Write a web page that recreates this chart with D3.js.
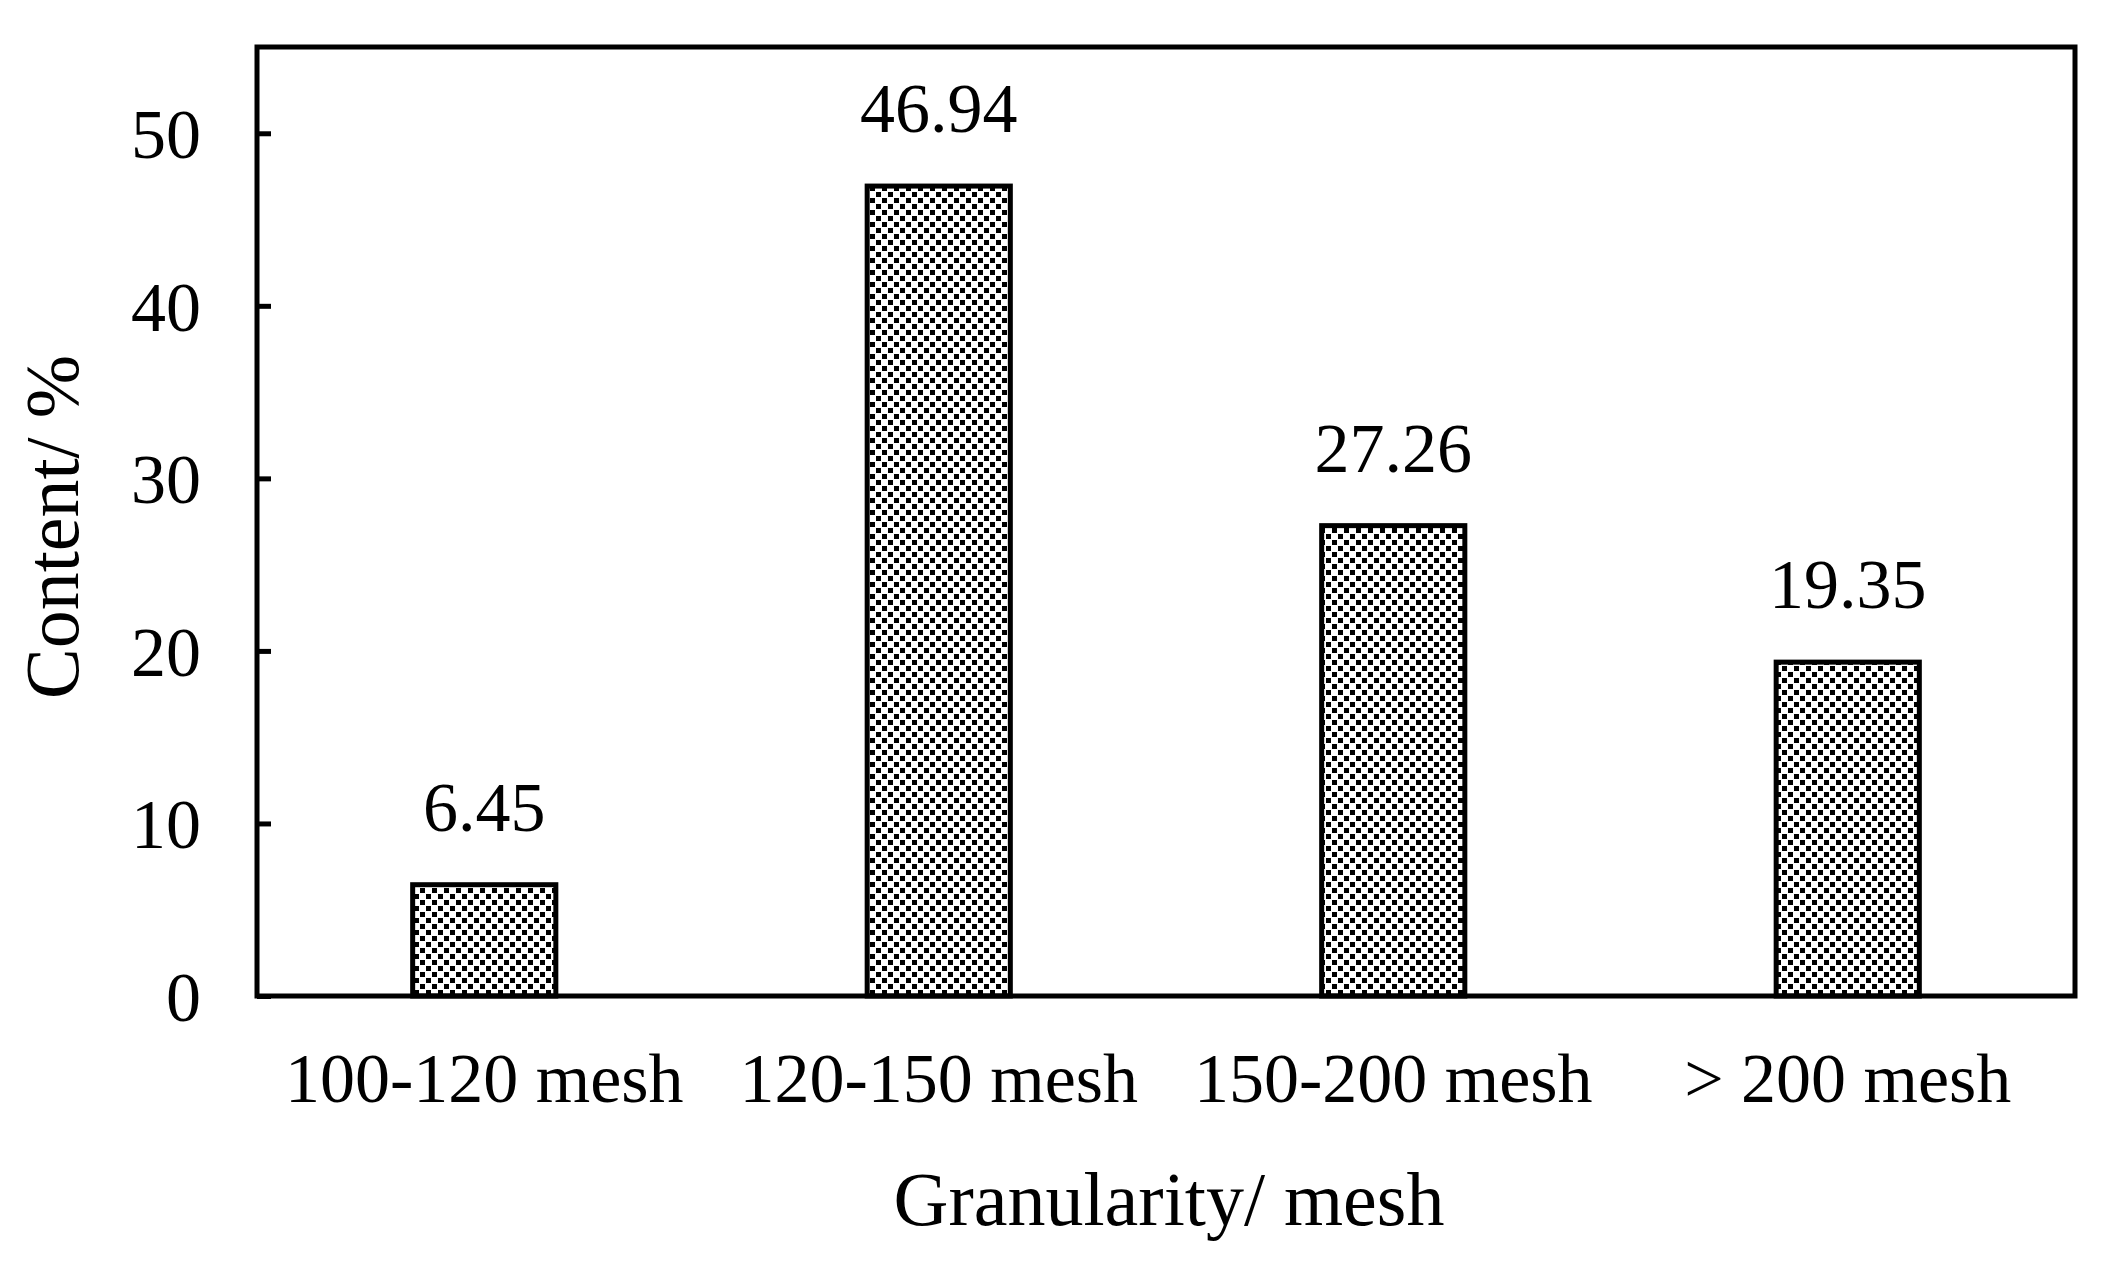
<!DOCTYPE html>
<html><head><meta charset="utf-8">
<script src="https://cdn.jsdelivr.net/npm/d3@7/dist/d3.min.js"></script>
<style>body{margin:0;background:#fff}</style></head>
<body><svg id="c" width="2109" height="1266"></svg>
<script>
const categories = ["100-120 mesh","120-150 mesh","150-200 mesh","> 200 mesh"];
const values = [6.45,46.94,27.26,19.35];
const yTicks = [0,10,20,30,40,50];

const svg = d3.select("#c");
const m = {l:257, r:2075, t:47, b:996};
const x = d3.scaleBand().domain(categories).range([m.l,m.r]).paddingInner(0.685).paddingOuter(0.3425);
const y = d3.scaleLinear().domain([0,55]).range([m.b,m.t]);
const font = "'Liberation Serif','Times New Roman',serif";

const defs = svg.append("defs");
const p = defs.append("pattern").attr("id","pat").attr("patternUnits","userSpaceOnUse").attr("width",12).attr("height",12);
p.append("rect").attr("width",12).attr("height",12).attr("fill","#fff");
[[0,0],[6,6]].forEach(([a,b])=>p.append("rect").attr("x",a).attr("y",b).attr("width",5).attr("height",5).attr("fill","#000"));

svg.selectAll(".bar").data(values).join("rect")
  .attr("x",(d,i)=>x(categories[i])).attr("width",x.bandwidth())
  .attr("y",d=>y(d)).attr("height",d=>y(0)-y(d))
  .attr("fill","url(#pat)").attr("stroke","#000").attr("stroke-width",5);

svg.selectAll(".vl").data(values).join("text")
  .attr("x",(d,i)=>x(categories[i])+x.bandwidth()/2).attr("y",d=>y(d)-54)
  .attr("text-anchor","middle").attr("font-family",font).attr("font-size",70).text(d=>d.toFixed(2));

svg.append("rect").attr("x",m.l).attr("y",m.t).attr("width",m.r-m.l).attr("height",m.b-m.t)
  .attr("fill","none").attr("stroke","#000").attr("stroke-width",5);

const ya = svg.append("g").attr("transform",`translate(${m.l},0)`)
  .call(d3.axisLeft(y).tickValues(yTicks).tickSize(-14).tickPadding(56));
ya.select(".domain").remove();
ya.selectAll("line").attr("stroke","#000").attr("stroke-width",5);
ya.selectAll("text").attr("font-family",font).attr("font-size",70).attr("fill","#000").attr("dy","0.35em");

const xa = svg.append("g").attr("transform",`translate(0,${m.b})`)
  .call(d3.axisBottom(x).tickSize(0).tickPadding(56));
xa.select(".domain").remove();
xa.selectAll("text").attr("font-family",font).attr("font-size",70).attr("fill","#000");

svg.append("text").attr("x",1169).attr("y",1225).attr("text-anchor","middle")
  .attr("font-family",font).attr("font-size",76).text("Granularity/ mesh");
svg.append("text").attr("transform","translate(78,527) rotate(-90)").attr("text-anchor","middle")
  .attr("font-family",font).attr("font-size",76).text("Content/ %");
</script></body></html>
